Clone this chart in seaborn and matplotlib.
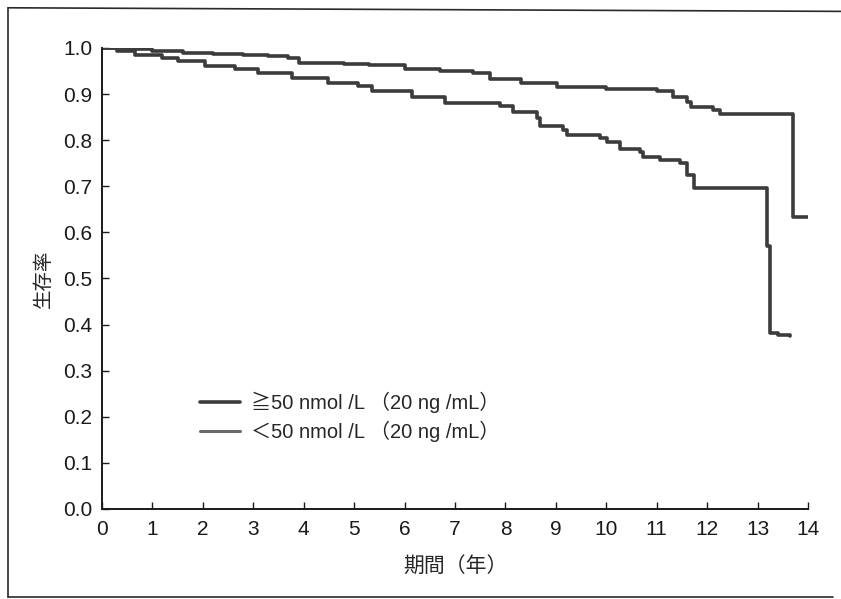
import numpy as np
import pandas as pd
import seaborn as sns
import matplotlib.pyplot as plt
from matplotlib.lines import Line2D

# survival curves (time in years, survival from that time on)
t_high = [0, 0.5, 1.0, 1.6, 2.2, 2.8, 3.3, 3.69, 3.9, 4.8, 5.3, 6.0, 6.7, 7.36, 7.7,
          8.3, 9.03, 10.0, 11.0, 11.33, 11.6, 11.67, 12.12, 12.26, 13.71, 14.0]
s_high = [1.0, 0.997, 0.994, 0.99, 0.988, 0.985, 0.982, 0.978, 0.968, 0.966, 0.962,
          0.955, 0.95, 0.946, 0.932, 0.925, 0.915, 0.912, 0.907, 0.894, 0.883, 0.872,
          0.866, 0.856, 0.633, 0.633]

t_low = [0, 0.3, 0.65, 1.19, 1.5, 2.04, 2.64, 3.1, 3.77, 4.48, 5.08, 5.36, 6.15, 6.8,
         7.9, 8.15, 8.63, 8.69, 9.15, 9.23, 9.88, 10.02, 10.28, 10.67, 10.73, 11.07,
         11.47, 11.6, 11.73, 13.19, 13.25, 13.4, 13.65]
s_low = [1.0, 0.993, 0.985, 0.978, 0.972, 0.96, 0.955, 0.946, 0.934, 0.924, 0.918,
         0.906, 0.893, 0.88, 0.875, 0.862, 0.848, 0.83, 0.822, 0.812, 0.805, 0.795,
         0.78, 0.774, 0.764, 0.757, 0.75, 0.725, 0.696, 0.57, 0.382, 0.377, 0.375]

labels = ["≧50 nmol /L （20 ng /mL）", "＜50 nmol /L （20 ng /mL）"]
x_ticks = list(range(0, 15))
y_ticks = [0.0, 0.1, 0.2, 0.3, 0.4, 0.5, 0.6, 0.7, 0.8, 0.9, 1.0]

df = pd.concat([
    pd.DataFrame({"t": t_high, "s": s_high, "g": labels[0]}),
    pd.DataFrame({"t": t_low, "s": s_low, "g": labels[1]}),
])

sns.set_style("ticks")
plt.rcParams["font.family"] = ["Liberation Sans", "Noto Sans CJK JP", "DejaVu Sans"]

fig = plt.figure(figsize=(8.41, 5.99), dpi=100)
ax = fig.add_axes([0.1213, 0.1503, 0.8395, 0.7696])

line_col = "#3c3c3c"
sns.lineplot(data=df, x="t", y="s", hue="g", palette=[line_col, line_col],
             estimator=None, sort=False, drawstyle="steps-post", lw=2.6,
             legend=False, ax=ax)

ax.set_xlim(0, 14)
ax.set_ylim(0, 1.0)
ax.set_xticks(x_ticks)
ax.set_yticks(y_ticks)
ax.set_yticklabels([f"{v:.1f}" for v in y_ticks])
ax.tick_params(direction="in", length=5, width=1, labelsize=15, colors="#1a1a1a")
ax.tick_params(axis="x", pad=8)
ax.tick_params(axis="y", pad=7)
for sp in ["left", "bottom"]:
    ax.spines[sp].set_linewidth(1.4)
    ax.spines[sp].set_color("#1a1a1a")
sns.despine(ax=ax)

ax.set_xlabel("期間（年）", fontsize=15, labelpad=13)
ax.set_ylabel("生存率", fontsize=14, labelpad=7)

handles = [Line2D([], [], color=line_col, lw=2.6),
           Line2D([], [], color="#6a6a6a", lw=2.2)]
ax.legend(handles, labels, loc="upper left", bbox_to_anchor=(0.2165, 0.377),
          bbox_transform=fig.transFigure, frameon=False, fontsize=14.5,
          handlelength=2.0, handletextpad=0.5, labelspacing=0.4)

# scanned frame around the whole figure
frame_kw = dict(color="#2a2a2a", lw=1.2, transform=fig.transFigure)
fig.add_artist(Line2D([0.0095, 0.0095], [0.0035, 0.987], **frame_kw))
fig.add_artist(Line2D([0.0095, 1.0], [0.987, 0.981], **frame_kw))
fig.add_artist(Line2D([0.0095, 0.99], [0.0035, 0.0035], **frame_kw))

fig.savefig("out.png", dpi=100)
